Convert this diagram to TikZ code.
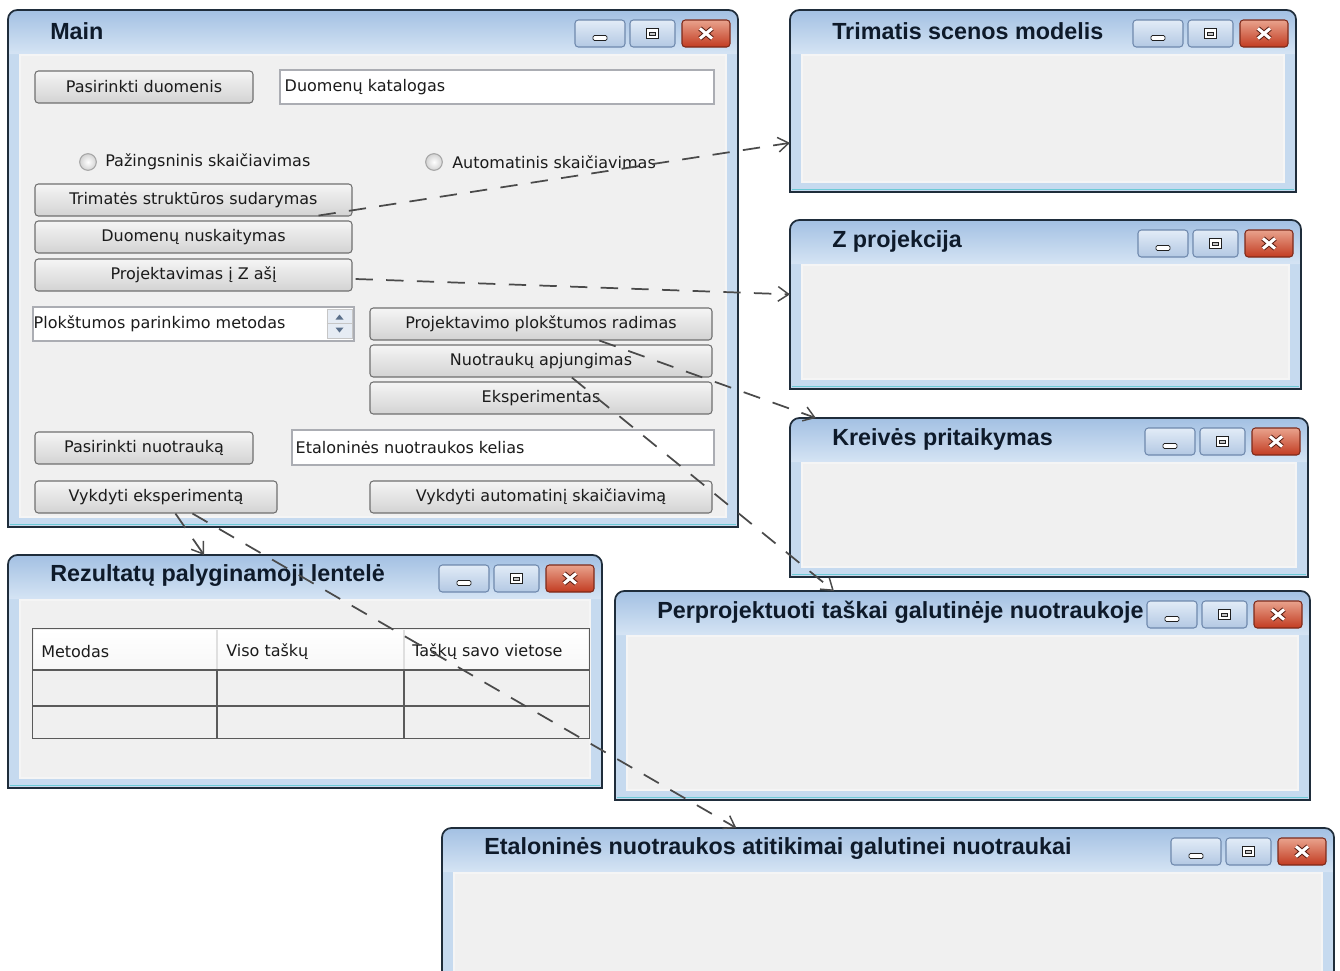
\documentclass[tikz,border=0pt]{standalone}
\usepackage{fontspec}
\setmainfont{DejaVu Sans}
\newfontfamily\captionfont{Liberation Sans}
\usetikzlibrary{arrows.meta,calc,fit}

\definecolor{frameblue}{HTML}{C6DAEF}
\definecolor{titletop}{HTML}{A4C1E3}
\definecolor{titlebot}{HTML}{D5E4F4}
\definecolor{frameedge}{HTML}{1F2D3B}
\definecolor{framecyan}{HTML}{6CCAD6}
\definecolor{panel}{HTML}{F0F0F0}
\definecolor{btnborder}{HTML}{707070}
\definecolor{btntop}{HTML}{F5F5F5}
\definecolor{btnbot}{HTML}{D3D3D3}
\definecolor{boxborder}{HTML}{ABADB3}
\definecolor{capborder}{HTML}{6F89AD}
\definecolor{captop}{HTML}{E2ECF7}
\definecolor{capbot}{HTML}{B3C8E3}
\definecolor{closetop}{HTML}{E9A38D}
\definecolor{closebot}{HTML}{C23B21}
\definecolor{closeborder}{HTML}{7E2A1A}
\definecolor{inktext}{HTML}{1B1B1B}
\definecolor{titleink}{HTML}{0E1A2A}
\definecolor{arrowink}{HTML}{4A4A4A}
\definecolor{gridline}{HTML}{5A5A5A}
\definecolor{spinfill}{HTML}{E6ECF4}
\definecolor{spinink}{HTML}{5A6F8A}

% A Windows-7 style window: name, left, top, right, bottom, caption
\newcommand{\uiwin}[6]{%
  \node[win, fit={(#2,#3) (#4,#5)}] (#1) {};
  \fill[frameblue] (#2,#5) [rounded corners=7pt] -- (#2,#3) -- (#4,#3) [sharp corners] -- (#4,#5) -- cycle;
  \shade[top color=titletop, bottom color=titlebot]
    ({#2+1},{#3+44}) [rounded corners=6pt] -- ({#2+1},{#3+1}) -- ({#4-1},{#3+1}) [sharp corners] -- ({#4-1},{#3+44}) -- cycle;
  \draw[framecyan, line width=1.2pt] ({#2+2},{#5-2.5}) -- ({#4-2},{#5-2.5});
  \draw[frameedge, line width=1.3pt] (#2,#5) [rounded corners=7pt] -- (#2,#3) -- (#4,#3) [sharp corners] -- (#4,#5) -- cycle;
  \node[body, fit={({#2+12},{#3+45}) ({#4-12},{#5-10})}] (#1-body) {};
  \node[wintitle] (#1-title) at ({#2+42},{#3+21}) {#6};
  \node[capbtn, fit={({#4-163},{#3+10}) ({#4-113},{#3+37})}] (#1-min) {};
  \node[capbtn, fit={({#4-108},{#3+10}) ({#4-63},{#3+37})}] (#1-max) {};
  \node[closebtn, fit={({#4-56},{#3+10}) ({#4-8},{#3+37})}] (#1-close) {};
  \draw[glyph, rounded corners=1pt] ([shift={(-7,2)}]#1-min.center) rectangle ([shift={(7,7)}]#1-min.center);
  \draw[glyph] ([shift={(-6,-5)}]#1-max.center) rectangle ([shift={(6,5)}]#1-max.center);
  \draw[glyph, fill=gray!45] ([shift={(-3,-1.5)}]#1-max.center) rectangle ([shift={(3,2)}]#1-max.center);
  \draw[closeborder!70!black, line width=3.8pt]
    ([shift={(-6,-5)}]#1-close.center) -- ([shift={(6,5)}]#1-close.center)
    ([shift={(-6,5)}]#1-close.center) -- ([shift={(6,-5)}]#1-close.center);
  \draw[white, line width=2.3pt]
    ([shift={(-6,-5)}]#1-close.center) -- ([shift={(6,5)}]#1-close.center)
    ([shift={(-6,5)}]#1-close.center) -- ([shift={(6,-5)}]#1-close.center);
}

% A push button with centred caption: name, left, top, right, bottom, caption
\newcommand{\uibtn}[6]{%
  \node[pushbtn, fit={(#2,#3) (#4,#5)}] (#1) {};
  \node[btncaption] (#1-text) at (#1.center) {#6};
}

\begin{document}
\begin{tikzpicture}[x=0.75pt, y=-0.75pt,
  win/.style={inner sep=0pt, outer sep=0pt},
  wintitle/.style={anchor=west, inner sep=0pt, text=titleink,
    font=\captionfont\bfseries\fontsize{17.5}{20}\selectfont},
  capbtn/.style={inner sep=0pt, draw=capborder, line width=0.8pt, rounded corners=2.5pt,
    top color=captop, bottom color=capbot},
  closebtn/.style={inner sep=0pt, draw=closeborder, line width=0.8pt, rounded corners=2.5pt,
    top color=closetop, bottom color=closebot},
  glyph/.style={draw=gray!25!black, fill=white, line width=0.6pt},
  body/.style={inner sep=0pt, fill=panel, draw=white!96!black, line width=0.8pt},
  pushbtn/.style={inner sep=0pt, draw=btnborder, line width=0.8pt, rounded corners=2.5pt,
    top color=btntop, bottom color=btnbot},
  btncaption/.style={inner sep=0pt, text=inktext, font=\fontsize{12}{14}\selectfont},
  entry/.style={inner sep=0pt, draw=boxborder, line width=0.8pt, fill=white},
  uitext/.style={anchor=west, inner sep=0pt, text=inktext, font=\fontsize{12}{14}\selectfont},
  radiobtn/.style={circle, inner sep=0pt, minimum size=12.5pt, draw=gray!70, line width=0.8pt,
    inner color=white, outer color=gray!35},
  gridrule/.style={draw=gridline, line width=0.8pt},
  headrule/.style={draw=gray!25, line width=0.8pt},
  flow/.style={draw=arrowink, line width=1.3pt, dash pattern=on 13pt off 10pt,
    -{Straight Barb[length=8pt,width=11pt,line width=1.1pt]}}
]
\useasboundingbox (0,0) rectangle (1340,971);
\fill[white] (0,0) rectangle (1340,971);

% ---------- windows ----------
\uiwin{mainwin}{8}{10}{738}{527}{Main}
\uiwin{win3d}{790}{10}{1296}{192}{Trimatis scenos modelis}
\uiwin{winz}{790}{220}{1301}{389}{Z projekcija}
\uiwin{wincurve}{790}{418}{1308}{577}{Kreivės pritaikymas}
\uiwin{winrep}{615}{591}{1310}{800}{Perprojektuoti taškai galutinėje nuotraukoje}
\uiwin{winres}{8}{555}{602}{788}{Rezultatų palyginamoji lentelė}
\uiwin{winmatch}{442}{828}{1334}{995}{Etaloninės nuotraukos atitikimai galutinei nuotraukai}

% ---------- controls of the main window ----------
\uibtn{bdata}{35}{71}{253}{103}{Pasirinkti duomenis}
\node[entry, fit={(280,70) (714,104)}] (edir) {};
\node[uitext] (tdir) at ($(edir.west)+(5,0)$) {Duomenų katalogas};

\node[radiobtn] (rstep) at (88,162) {};
\node[uitext] (tstep) at (105,162) {Pažingsninis skaičiavimas};
\node[radiobtn] (rauto) at (434,162) {};
\node[uitext] (tauto) at (452,162) {Automatinis skaičiavimas};

\uibtn{btrim}{35}{184}{352}{216}{Trimatės struktūros sudarymas}
\uibtn{bread}{35}{221}{352}{253}{Duomenų nuskaitymas}
\uibtn{bproj}{35}{259}{352}{291}{Projektavimas į Z ašį}

\node[entry, fit={(33,307) (354,341)}] (emethod) {};
\node[uitext] (tmethod) at ($(emethod.west)+(1,0)$) {Plokštumos parinkimo metodas};
\node[inner sep=0pt, draw=gray!45, fill=spinfill, line width=0.6pt, fit={(327,309) (352,338)}] (spin) {};
\draw[gray!45, line width=0.6pt] (spin.west) -- (spin.east);
\fill[spinink] ([shift={(0,-9)}]spin.center) -- ([shift={(-4,-4)}]spin.center) -- ([shift={(4,-4)}]spin.center) -- cycle;
\fill[spinink] ([shift={(0,9)}]spin.center) -- ([shift={(-4,4)}]spin.center) -- ([shift={(4,4)}]spin.center) -- cycle;

\uibtn{bplane}{370}{308}{712}{340}{Projektavimo plokštumos radimas}
\uibtn{bmerge}{370}{345}{712}{377}{Nuotraukų apjungimas}
\uibtn{bexpt}{370}{382}{712}{414}{Eksperimentas}

\uibtn{bimg}{35}{432}{253}{464}{Pasirinkti nuotrauką}
\node[entry, fit={(292,430) (714,465)}] (epath) {};
\node[uitext] (tpath) at ($(epath.west)+(4,0)$) {Etaloninės nuotraukos kelias};

\uibtn{bexp}{35}{481}{277}{513}{Vykdyti eksperimentą}
\uibtn{bauto}{370}{481}{712}{513}{Vykdyti automatinį skaičiavimą}

% ---------- results table ----------
\node[inner sep=0pt, fill=panel, fit={(33,629) (589,738)}] (tbl) {};
\shade[top color=white, bottom color=gray!6] (34,630) rectangle (588,670);
\draw[headrule] (217,630) -- (217,670) (404,630) -- (404,670);
\draw[gridrule] (33,670) -- (589,670) (33,706) -- (589,706)
  (217,670) -- (217,738) (404,670) -- (404,738);
\draw[gridrule] (tbl.north west) rectangle (tbl.south east);
\node[uitext] (hmeth) at (41,652) {Metodas};
\node[uitext] (hall) at (226,652) {Viso taškų};
\node[uitext] (hplace) at (412,652) {Taškų savo vietose};

% ---------- connectors ----------
\coordinate (a0) at ($(btrim.south east)+(-34,-1)$);
\coordinate (a1) at ($(win3d.north west)!0.73!(win3d.south west)$);
\coordinate (b0) at ($(bproj.east)+(3,4)$);
\coordinate (b1) at ($(winz.north west)!0.44!(winz.south west)$);
\coordinate (c0) at ($(bplane.south west)!0.67!(bplane.south east)$);
\coordinate (c1) at ($(wincurve.north west)!0.05!(wincurve.north east)$);
\coordinate (d0) at ($(bmerge.south west)!0.59!(bmerge.south east)$);
\coordinate (d1) at ($(winrep.north west)!0.315!(winrep.north east)$);
\coordinate (e0) at ($(bexp.south west)!0.58!(bexp.south east)$);
\coordinate (e1) at ($(winres.north west)!0.33!(winres.north east)$);
\coordinate (f0) at ($(bexp.south west)!0.65!(bexp.south east)$);
\coordinate (f1) at ($(winmatch.north west)!0.33!(winmatch.north east)$);

\draw[flow] (a0) -- (a1);
\draw[flow] (b0) -- (b1);
\draw[flow] (c0) -- (c1);
\draw[flow] (d0) -- (d1);
\draw[flow] (e0) -- (e1);
\draw[flow] (f0) -- (f1);
\end{tikzpicture}
\end{document}
